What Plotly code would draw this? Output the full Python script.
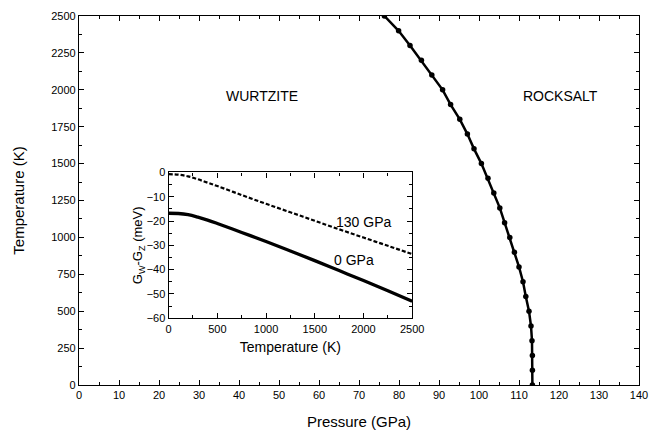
import plotly.graph_objects as go

# Main phase boundary: temperature (K) vs transition pressure (GPa)
temperature_K = [0, 100, 200, 300, 400, 500, 600, 700, 800, 900, 1000, 1100, 1200,
                 1300, 1400, 1500, 1600, 1700, 1800, 1900, 2000, 2100, 2200, 2300, 2400, 2500]
pressure_GPa = [113.35, 113.35, 113.35, 113.25, 113.0, 112.5, 111.7, 111.0, 110.0, 108.85,
                107.7, 106.4, 105.2, 103.7, 102.25, 100.6, 98.75, 97.1, 95.2, 92.9,
                90.9, 88.2, 85.6, 82.75, 79.9, 76.35]

# Inset: Gibbs free energy difference (meV) vs temperature (K)
inset_T = [0, 100, 200, 300, 400, 500, 750, 1000, 1250, 1500, 1750, 2000, 2250, 2500]
g_130GPa = [-0.7, -0.9, -1.6, -2.8, -4.2, -5.6, -9.3, -12.9, -16.4, -19.9, -23.4, -26.8, -30.2, -33.6]
g_0GPa = [-16.8, -16.9, -17.4, -18.4, -19.6, -21.0, -24.7, -28.4, -32.3, -36.3, -40.4, -44.5, -48.7, -53.0]

x_ticks = list(range(0, 141, 10))
y_ticks = list(range(0, 2501, 250))
inset_x_ticks = [0, 500, 1000, 1500, 2000, 2500]
inset_y_ticks = [0, -10, -20, -30, -40, -50, -60]

FONT = "Liberation Sans, Arial, sans-serif"

fig = go.Figure()
fig.add_trace(go.Scatter(
    x=pressure_GPa, y=temperature_K, mode="lines+markers",
    line=dict(color="black", width=2.5), marker=dict(color="black", size=5.5),
    showlegend=False, xaxis="x", yaxis="y"))
fig.add_trace(go.Scatter(
    x=inset_T, y=g_130GPa, mode="lines", line=dict(color="black", width=2.2, dash="4px,2px", shape="spline"),
    showlegend=False, xaxis="x2", yaxis="y2"))
fig.add_trace(go.Scatter(
    x=inset_T, y=g_0GPa, mode="lines", line=dict(color="black", width=3.3, shape="spline"),
    showlegend=False, xaxis="x2", yaxis="y2"))

axis_common = dict(showline=True, linecolor="black", linewidth=1.2, mirror="allticks",
                   ticks="inside", tickcolor="black", showgrid=False, zeroline=False,
                   tickfont=dict(family=FONT, size=11, color="black"))

fig.update_layout(
    width=666, height=439,
    margin=dict(l=79, r=26.5, t=9.5, b=53.5),
    paper_bgcolor="white", plot_bgcolor="white",
    font=dict(family=FONT, color="black"),
    xaxis=dict(range=[0, 140], tickvals=x_ticks, ticklen=5,
               minor=dict(ticks="inside", dtick=5, ticklen=3, tickcolor="black"),
               title=dict(text="Pressure (GPa)", font=dict(family=FONT, size=15), standoff=16),
               **axis_common),
    yaxis=dict(range=[0, 2500], tickvals=y_ticks, ticklen=5,
               minor=dict(ticks="inside", dtick=125, ticklen=3, tickcolor="black"),
               title=dict(text="Temperature (K)", font=dict(family=FONT, size=15), standoff=22),
               **axis_common),
    xaxis2=dict(domain=[0.160, 0.595], anchor="y2", range=[0, 2500], tickvals=inset_x_ticks, ticklen=5,
                minor=dict(ticks="inside", dtick=250, ticklen=3, tickcolor="black"),
                title=dict(text="Temperature (K)", font=dict(family=FONT, size=14), standoff=8),
                **axis_common),
    yaxis2=dict(domain=[0.181, 0.576], anchor="x2", range=[-60, 0], tickvals=inset_y_ticks, ticklen=5,
                minor=dict(ticks="inside", dtick=5, ticklen=3, tickcolor="black"),
                title=dict(text="G<sub>W</sub>-G<sub>Z</sub> (meV)", font=dict(family=FONT, size=13), standoff=0),
                **axis_common),
    annotations=[
        dict(x=45.7, y=1958, xref="x", yref="y", text="WURTZITE", showarrow=False,
             font=dict(family=FONT, size=14)),
        dict(x=120.4, y=1958, xref="x", yref="y", text="ROCKSALT", showarrow=False,
             font=dict(family=FONT, size=14)),
        dict(x=1996, y=-20.6, xref="x2", yref="y2", text="130 GPa", showarrow=False,
             font=dict(family=FONT, size=14)),
        dict(x=1901, y=-35.9, xref="x2", yref="y2", text="0 GPa", showarrow=False,
             font=dict(family=FONT, size=14)),
    ],
)

fig.write_html("out.html")
